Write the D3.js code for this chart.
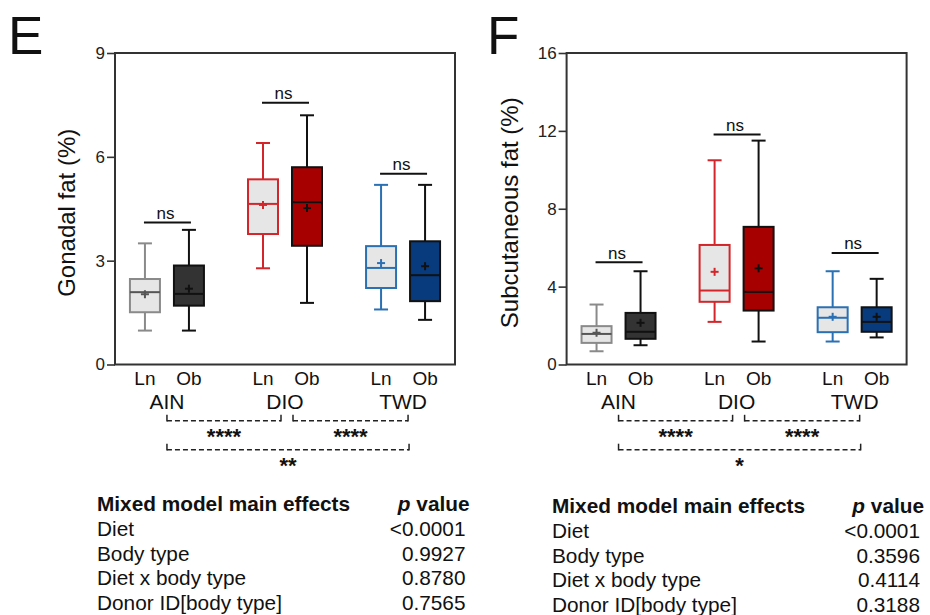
<!DOCTYPE html>
<html>
<head>
<meta charset="utf-8">
<script src="https://cdn.jsdelivr.net/npm/d3@7"></script>
<style>
  html, body { margin: 0; padding: 0; background: #fff; }
  svg { display: block; font-family: "Liberation Sans", Arial, Helvetica, sans-serif; }
</style>
</head>
<body>
<svg id="chart" width="930" height="615"></svg>
<script>
// ---------------- DATA ----------------
const groups = ["AIN", "DIO", "TWD"];
const bodyTypes = ["Ln", "Ob"];
// order of boxes: AIN Ln, AIN Ob, DIO Ln, DIO Ob, TWD Ln, TWD Ob

// Panel E: Gonadal fat (%)
const gonadalMin    = [0.98, 0.98, 2.78, 1.78, 1.59, 1.29];
const gonadalQ1     = [1.51, 1.70, 3.77, 3.43, 2.21, 1.83];
const gonadalMedian = [2.09, 2.04, 4.64, 4.69, 2.79, 2.58];
const gonadalQ3     = [2.47, 2.86, 5.35, 5.70, 3.42, 3.56];
const gonadalMax    = [3.50, 3.89, 6.40, 7.20, 5.19, 5.19];
const gonadalMean   = [2.03, 2.19, 4.61, 4.52, 2.93, 2.84];
const gonadalTicks  = [0, 3, 6, 9];
const gonadalNsLevel = [4.10, 7.56, 5.51];   // height of "ns" bars (data units)
const gonadalNsLabel = ["ns", "ns", "ns"];
const gonadalDietSig = ["****", "****", "**"]; // AIN-DIO, DIO-TWD, AIN-TWD

// Panel F: Subcutaneous fat (%)
const subcutMin    = [0.68, 0.99, 2.19, 1.18, 1.18, 1.39];
const subcutQ1     = [1.11, 1.32, 3.22, 2.77, 1.66, 1.68];
const subcutMedian = [1.57, 1.68, 3.80, 3.73, 2.40, 2.19];
const subcutQ3     = [1.97, 2.65, 6.14, 7.07, 2.94, 2.94];
const subcutMax    = [3.08, 4.79, 10.49, 11.50, 4.79, 4.40];
const subcutMean   = [1.63, 2.14, 4.76, 4.94, 2.45, 2.45];
const subcutTicks  = [0, 4, 8, 12, 16];
const subcutNsLevel = [5.25, 11.81, 5.73];
const subcutNsLabel = ["ns", "ns", "ns"];
const subcutDietSig = ["****", "****", "*"];

const dietPairs = [["AIN", "DIO"], ["DIO", "TWD"], ["AIN", "TWD"]];

// Mixed model tables
const effectNames = ["Diet", "Body type", "Diet x body type", "Donor ID[body type]"];
const gonadalP = ["<0.0001", "0.9927", "0.8780", "0.7565"];
const subcutP  = ["<0.0001", "0.3596", "0.4114", "0.3188"];

// ---------------- STYLES ----------------
const palette = {
  AIN: { Ln: { fill: "#e6e6e6", stroke: "#8a8a8a", inner: "#555555" },
         Ob: { fill: "#333333", stroke: "#111111", inner: "#111111" } },
  DIO: { Ln: { fill: "#e6e6e6", stroke: "#d3262b", inner: "#d3262b" },
         Ob: { fill: "#a70000", stroke: "#111111", inner: "#111111" } },
  TWD: { Ln: { fill: "#e6e6e6", stroke: "#2a70b3", inner: "#2a70b3" },
         Ob: { fill: "#073b7d", stroke: "#111111", inner: "#111111" } }
};

const svg = d3.select("#chart");
const plotW = 340, plotH = 311.5, plotTop = 53;
const tableFont = 20.8;

function makeRows(minA, q1A, medA, q3A, maxA, meanA) {
  const rows = [];
  groups.forEach((g, gi) => bodyTypes.forEach((b, bi) => {
    const i = gi * 2 + bi;
    rows.push({ group: g, body: b, min: minA[i], q1: q1A[i], median: medA[i],
                q3: q3A[i], max: maxA[i], mean: meanA[i] });
  }));
  return rows;
}

function drawPanel(opt) {
  const g = svg.append("g").attr("transform", `translate(${opt.left},${plotTop})`);
  const y = d3.scaleLinear().domain([0, opt.ticks[opt.ticks.length - 1]]).range([plotH, 0]);
  const gx = d3.scalePoint().domain(groups).range([0, plotW]).padding(0.44);
  const bx = d3.scalePoint().domain(bodyTypes).range([-22, 22]);
  const X = d => gx(d.group) + bx(d.body);
  const boxW = 30, capW = 14;

  // frame
  g.append("rect").attr("x", 0).attr("y", 0).attr("width", plotW).attr("height", plotH)
    .attr("fill", "none").attr("stroke", "#333").attr("stroke-width", 2);

  // y axis
  const yAxis = d3.axisLeft(y).tickValues(opt.ticks).tickSize(8).tickPadding(2).tickFormat(d3.format("d"));
  const ya = g.append("g").call(yAxis);
  ya.select(".domain").remove();
  ya.selectAll(".tick line").attr("stroke", "#333").attr("stroke-width", 1.6);
  ya.selectAll(".tick text").attr("font-size", 17).attr("fill", "#222")
    .attr("font-family", "Liberation Sans, Arial, sans-serif");

  // y title
  svg.append("text")
    .attr("transform", `translate(${opt.titleX},${plotTop + plotH / 2 + 4}) rotate(-90)`)
    .attr("text-anchor", "middle").attr("font-size", 24).attr("fill", "#111")
    .text(opt.title);

  const rows = makeRows(...opt.stats);

  // boxes
  const box = g.selectAll("g.box").data(rows).enter().append("g").attr("class", "box");
  const st = d => palette[d.group][d.body];
  // whiskers
  box.append("line").attr("x1", X).attr("x2", X).attr("y1", d => y(d.max)).attr("y2", d => y(d.q3))
    .attr("stroke", d => st(d).stroke).attr("stroke-width", 2);
  box.append("line").attr("x1", X).attr("x2", X).attr("y1", d => y(d.q1)).attr("y2", d => y(d.min))
    .attr("stroke", d => st(d).stroke).attr("stroke-width", 2);
  box.append("line").attr("x1", d => X(d) - capW / 2).attr("x2", d => X(d) + capW / 2)
    .attr("y1", d => y(d.max)).attr("y2", d => y(d.max))
    .attr("stroke", d => st(d).stroke).attr("stroke-width", 2);
  box.append("line").attr("x1", d => X(d) - capW / 2).attr("x2", d => X(d) + capW / 2)
    .attr("y1", d => y(d.min)).attr("y2", d => y(d.min))
    .attr("stroke", d => st(d).stroke).attr("stroke-width", 2);
  // box
  box.append("rect").attr("x", d => X(d) - boxW / 2).attr("width", boxW)
    .attr("y", d => y(d.q3)).attr("height", d => y(d.q1) - y(d.q3))
    .attr("fill", d => st(d).fill).attr("stroke", d => st(d).stroke).attr("stroke-width", 2);
  // median
  box.append("line").attr("x1", d => X(d) - boxW / 2).attr("x2", d => X(d) + boxW / 2)
    .attr("y1", d => y(d.median)).attr("y2", d => y(d.median))
    .attr("stroke", d => st(d).inner).attr("stroke-width", 2);
  // mean +
  box.append("line").attr("x1", d => X(d) - 4).attr("x2", d => X(d) + 4)
    .attr("y1", d => y(d.mean)).attr("y2", d => y(d.mean))
    .attr("stroke", d => st(d).inner).attr("stroke-width", 2);
  box.append("line").attr("x1", X).attr("x2", X)
    .attr("y1", d => y(d.mean) - 4).attr("y2", d => y(d.mean) + 4)
    .attr("stroke", d => st(d).inner).attr("stroke-width", 2);

  // ns bars
  groups.forEach((grp, i) => {
    const x1 = gx(grp) + bx("Ln") - 1, x2 = gx(grp) + bx("Ob") + 2;
    const yy = y(opt.nsLevel[i]);
    g.append("line").attr("x1", x1).attr("x2", x2).attr("y1", yy).attr("y2", yy)
      .attr("stroke", "#111").attr("stroke-width", 2);
    g.append("text").attr("x", (x1 + x2) / 2 - 2).attr("y", yy - 3.5)
      .attr("text-anchor", "middle").attr("font-size", 17).attr("fill", "#111")
      .text(opt.nsLabel[i]);
  });

  // x labels
  groups.forEach(grp => {
    bodyTypes.forEach(b => {
      g.append("text").attr("x", gx(grp) + bx(b)).attr("y", 384.5 - plotTop)
        .attr("text-anchor", "middle").attr("font-size", 19).attr("fill", "#111").text(b);
    });
    g.append("text").attr("x", gx(grp)).attr("y", 408.5 - plotTop)
      .attr("text-anchor", "middle").attr("font-size", 21).attr("fill", "#111").text(grp);
  });

  // diet comparison brackets
  const levels = [420.8 - plotTop, 420.8 - plotTop, 449.7 - plotTop];
  dietPairs.forEach((p, i) => {
    const x1 = gx(p[0]) + (p[0] === "DIO" ? 8 : 0);
    const x2 = gx(p[1]) + (p[1] === "DIO" ? -4 : (i === 2 ? 6 : 5));
    const yy = levels[i];
    g.append("line").attr("x1", x1).attr("x2", x2).attr("y1", yy).attr("y2", yy)
      .attr("stroke", "#222").attr("stroke-width", 1.5).attr("stroke-dasharray", "5,3");
    [x1, x2].forEach(xx => g.append("line").attr("x1", xx).attr("x2", xx)
      .attr("y1", yy + 0.75).attr("y2", yy - 6).attr("stroke", "#222").attr("stroke-width", 1.5));
    g.append("text").attr("x", (x1 + x2) / 2).attr("y", yy + 23)
      .attr("text-anchor", "middle").attr("font-size", 22).attr("font-weight", "bold")
      .attr("fill", "#111").text(opt.dietSig[i]);
  });

  // table
  const t = svg.append("g").attr("transform", `translate(0,${opt.tableY})`);
  t.append("text").attr("x", opt.tableLeft).attr("y", 0).attr("font-size", tableFont)
    .attr("font-weight", "bold").attr("fill", "#111").text("Mixed model main effects");
  const ph = t.append("text").attr("x", opt.tableRight).attr("y", 0).attr("font-size", tableFont)
    .attr("font-weight", "bold").attr("text-anchor", "end").attr("fill", "#111");
  ph.append("tspan").attr("font-style", "italic").text("p");
  ph.append("tspan").text(" value");
  effectNames.forEach((name, i) => {
    t.append("text").attr("x", opt.tableLeft).attr("y", 25 + i * 24.5).attr("font-size", tableFont)
      .attr("fill", "#111").text(name);
    t.append("text").attr("x", opt.tableRight - 4).attr("y", 25 + i * 24.5).attr("font-size", tableFont)
      .attr("text-anchor", "end").attr("fill", "#111").text(opt.pvals[i]);
  });

  // panel letter
  svg.append("text").attr("x", opt.letterX).attr("y", 54).attr("font-size", 53)
    .attr("fill", "#111").text(opt.letter);
}

drawPanel({
  left: 115, ticks: gonadalTicks, title: "Gonadal fat (%)", titleX: 75,
  stats: [gonadalMin, gonadalQ1, gonadalMedian, gonadalQ3, gonadalMax, gonadalMean],
  nsLevel: gonadalNsLevel, nsLabel: gonadalNsLabel, dietSig: gonadalDietSig,
  tableY: 511, tableLeft: 97, tableRight: 469.5, pvals: gonadalP,
  letter: "E", letterX: 8
});

drawPanel({
  left: 566.6, ticks: subcutTicks, title: "Subcutaneous fat (%)", titleX: 518,
  stats: [subcutMin, subcutQ1, subcutMedian, subcutQ3, subcutMax, subcutMean],
  nsLevel: subcutNsLevel, nsLabel: subcutNsLabel, dietSig: subcutDietSig,
  tableY: 513, tableLeft: 552, tableRight: 924, pvals: subcutP,
  letter: "F", letterX: 487
});
</script>
</body>
</html>
